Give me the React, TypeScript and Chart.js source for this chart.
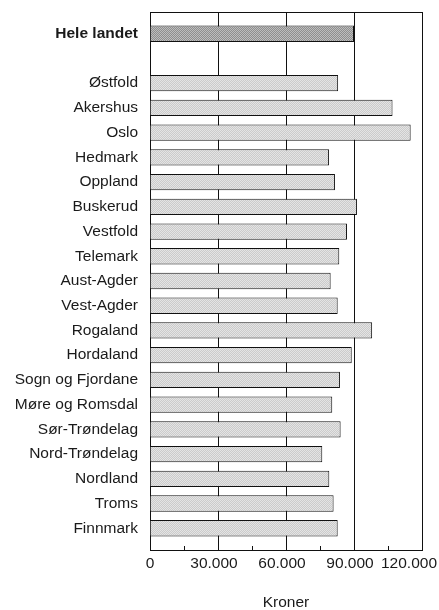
import React, { useEffect, useRef } from "react";
import { Chart, registerables } from "chart.js";

Chart.register(...registerables);

const categories: string[] = [
  "Hele landet", "", "Østfold", "Akershus", "Oslo", "Hedmark", "Oppland", "Buskerud",
  "Vestfold", "Telemark", "Aust-Agder", "Vest-Agder", "Rogaland", "Hordaland",
  "Sogn og Fjordane", "Møre og Romsdal", "Sør-Trøndelag", "Nord-Trøndelag",
  "Nordland", "Troms", "Finnmark",
];
const values: (number | null)[] = [
  90000, null, 83000, 107000, 115000, 79000, 81600, 91300,
  86900, 83500, 79700, 82800, 98000, 89000,
  83800, 80400, 84100, 76000,
  79100, 81000, 82800,
];
const xTickValues: number[] = [0, 30000, 60000, 90000, 120000];
const xMinorTickValues: number[] = [15000, 45000, 75000, 105000];
const xTitle = "Kroner";

const fmt = (v: number) => (v === 0 ? "0" : String(v).replace(/\B(?=(\d{3})+(?!\d))/g, "."));

function pickFont(): { family: string; size: number } {
  const c = document.createElement("canvas").getContext("2d")!;
  const s = "Møre og Romsdal";
  c.font = "18px monospace";
  const a = c.measureText(s).width;
  c.font = "18px 'Liberation Sans Narrow', monospace";
  const b = c.measureText(s).width;
  if (Math.abs(a - b) > 0.5) return { family: "'Liberation Sans Narrow'", size: 18 };
  return { family: "'Liberation Sans', Arial", size: 15.5 };
}

function makePattern(c1: string, c2: string): CanvasPattern | string {
  const cv = document.createElement("canvas");
  cv.width = 2;
  cv.height = 2;
  const g = cv.getContext("2d");
  if (!g) return c1;
  g.fillStyle = c1;
  g.fillRect(0, 0, 2, 2);
  g.fillStyle = c2;
  g.fillRect(0, 0, 1, 1);
  g.fillRect(1, 1, 1, 1);
  return g.createPattern(cv, "repeat") || c1;
}

export default function App() {
  const ref = useRef<HTMLCanvasElement | null>(null);
  useEffect(() => {
    document.body.style.margin = "0";
    const f = pickFont();
    const data = values
      .map((v, i) => (v === null ? null : { x: v, y: i }))
      .filter((d) => d !== null) as { x: number; y: number }[];
    const light = makePattern("#cbcbcb", "#e4e4e4");
    const dark = makePattern("#8e8e8e", "#bdbdbd");
    const colors = data.map((d) => (d.y === 0 ? dark : light));

    const framePlugin = {
      id: "frame",
      afterDraw(chart: any) {
        const { ctx, chartArea, width } = chart;
        const xs = chart.scales.x;
        ctx.save();
        ctx.strokeStyle = "#111";
        ctx.lineWidth = 1;
        ctx.beginPath();
        const top = Math.round(chartArea.top) + 0.5;
        ctx.moveTo(Math.round(chartArea.left), top);
        ctx.lineTo(Math.round(chartArea.right) + 1, top);
        const b = Math.round(chartArea.bottom);
        xMinorTickValues.forEach((v) => {
          const px = Math.round(xs.getPixelForValue(v)) + 0.5;
          ctx.moveTo(px, b);
          ctx.lineTo(px, b - 4);
        });
        ctx.stroke();
        // x tick labels, kept inside the canvas
        ctx.fillStyle = "#1a1a1a";
        ctx.font = `${f.size}px ${f.family}`;
        ctx.textAlign = "center";
        ctx.textBaseline = "alphabetic";
        xTickValues.forEach((v) => {
          const label = fmt(v);
          const w = ctx.measureText(label).width;
          let cx = xs.getPixelForValue(v) - (v === 0 ? 0 : 4);
          cx = Math.min(cx, width - 2 - w / 2);
          ctx.fillText(label, cx, b + 18);
        });
        ctx.restore();
      },
    };

    const chart = new Chart(ref.current!, {
      type: "bar",
      data: {
        datasets: [
          {
            data: data as any,
            backgroundColor: colors as any,
            borderColor: "#111",
            borderWidth: 1,
            barPercentage: 0.66,
            categoryPercentage: 1,
          },
        ],
      },
      plugins: [framePlugin],
      options: {
        indexAxis: "y",
        animation: false,
        responsive: true,
        maintainAspectRatio: false,
        layout: { padding: { top: 12, right: 17, bottom: 0, left: 0 } },
        plugins: { legend: { display: false }, tooltip: { enabled: false } },
        scales: {
          x: {
            type: "linear",
            min: 0,
            max: 120000,
            afterBuildTicks: (axis: any) => {
              axis.ticks = xTickValues.map((v) => ({ value: v }));
            },
            afterFit: (scale: any) => {
              scale.height = 60;
              scale.paddingLeft = 0;
              scale.paddingRight = 0;
            },
            ticks: { display: false },
            grid: { color: "#111", lineWidth: 1, drawTicks: false },
            border: { display: true, color: "#111" },
            title: {
              display: true,
              text: xTitle,
              color: "#1a1a1a",
              font: { family: f.family, size: f.size, lineHeight: 1 },
              padding: { top: 0, bottom: 0 },
            },
          },
          y: {
            type: "linear",
            reverse: true,
            offset: false,
            min: -0.88,
            max: 20.88,
            afterBuildTicks: (axis: any) => {
              axis.ticks = categories.map((_, i) => ({ value: i }));
            },
            afterFit: (scale: any) => {
              scale.width = 150;
              scale.paddingTop = 0;
              scale.paddingBottom = 0;
            },
            ticks: {
              color: "#1a1a1a",
              padding: 12,
              autoSkip: false,
              font: (ctx: any) => ({
                family: f.family,
                size: f.size,
                weight: ctx.index === 0 ? "bold" : "normal",
              }),
              callback: (v: any) => categories[Number(v)] ?? "",
            },
            grid: { display: false, drawTicks: false },
            border: { display: true, color: "#111" },
          },
        },
      },
    });
    return () => chart.destroy();
  }, []);
  return (
    <div style={{ width: 439, height: 610, position: "relative" }}>
      <canvas ref={ref} />
    </div>
  );
}
